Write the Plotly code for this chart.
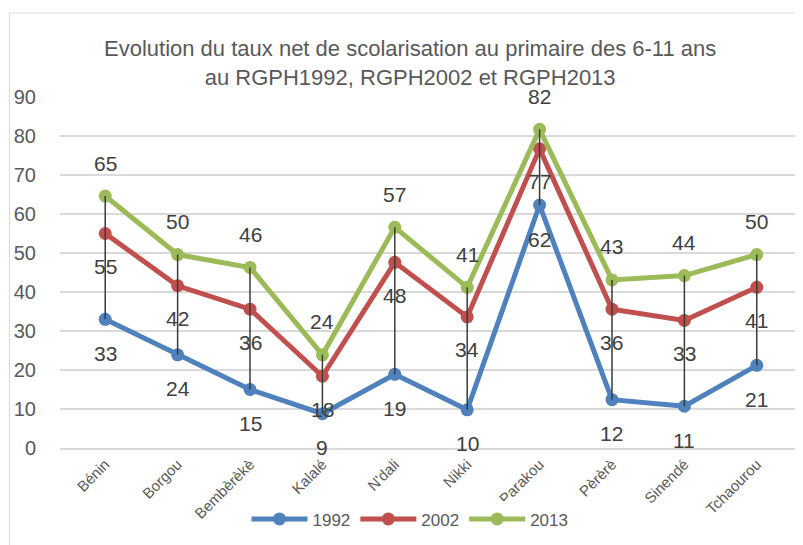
import plotly.graph_objects as go

categories = ["Bénin", "Borgou", "Bembèrèkè", "Kalalé", "N'dali", "Nikki",
              "Parakou", "Pèrèrè", "Sinendé", "Tchaourou"]
v1992 = [33.0, 23.9, 15.0, 8.8, 18.9, 9.8, 62.3, 12.4, 10.7, 21.2]
v2002 = [55.0, 41.6, 35.6, 18.4, 47.6, 33.6, 76.7, 35.6, 32.7, 41.2]
v2013 = [64.6, 49.6, 46.3, 23.9, 56.6, 41.2, 81.7, 43.1, 44.2, 49.6]
series_names = ["1992", "2002", "2013"]
colors = ["#4F81BD", "#C0504D", "#9BBB59"]
yticks = [0, 10, 20, 30, 40, 50, 60, 70, 80, 90]

font_fam = "Liberation Sans, Arial, sans-serif"
# the page body has an 8px margin; size the figure so that it fits the window
OFF = 8
W, H = 803 - OFF, 545 - OFF
# target page coordinates of the plot area
PX0, PX1, PY0, PY1 = 60, 802, 97, 447.7
ml = PX0 - OFF
mr = W - (PX1 - OFF)
mt = PY0 - OFF
mb = H - (PY1 - OFF)
pw = W - ml - mr
ph = H - mt - mb


def px_x(x):
    return (x - PX0) / pw


def px_y(y):
    return (PY1 - y) / ph


fig = go.Figure()
for name, vals, c in zip(series_names, [v1992, v2002, v2013], colors):
    fig.add_trace(go.Scatter(
        x=categories, y=vals, name=name, mode="lines+markers",
        line=dict(color=c, width=5), marker=dict(color=c, size=13),
    ))

# high-low lines
hx, hy = [], []
for i, cat in enumerate(categories):
    vals = [v1992[i], v2002[i], v2013[i]]
    hx += [cat, cat, None]
    hy += [min(vals), max(vals), None]
fig.add_trace(go.Scatter(x=hx, y=hy, mode="lines", line=dict(color="#3A3A3A", width=1.5),
                         showlegend=False, hoverinfo="skip"))

annotations = []
for vals, shift in [(v1992, -34), (v2002, -33), (v2013, 33)]:
    for cat, v in zip(categories, vals):
        annotations.append(dict(x=cat, y=v, text=str(int(v + 0.5)), showarrow=False,
                                yshift=shift, yanchor="middle",
                                font=dict(size=21, color="#404040", family=font_fam)))

annotations.append(dict(
    xref="paper", yref="paper", x=px_x(410), y=px_y(63.5),
    text="Evolution du taux net de scolarisation au primaire des 6-11 ans<br>au RGPH1992, RGPH2002 et RGPH2013",
    showarrow=False, yanchor="middle", xanchor="center",
    font=dict(size=22, color="#595959", family=font_fam)))

fig.add_shape(type="rect", xref="paper", yref="paper",
              x0=px_x(9.5), x1=px_x(820),
              y0=px_y(560), y1=px_y(13),
              line=dict(color="#D9D9D9", width=1), layer="below")

fig.update_layout(
    width=W, height=H,
    margin=dict(l=ml, r=mr, t=mt, b=mb, autoexpand=False),
    paper_bgcolor="white", plot_bgcolor="white",
    annotations=annotations,
    showlegend=True,
    legend=dict(orientation="h", x=px_x(410), xanchor="center",
                y=px_y(519), yanchor="middle",
                font=dict(size=17, color="#595959", family=font_fam), itemwidth=56),
    xaxis=dict(showgrid=False, tickangle=-45, ticks="", automargin=False,
               tickfont=dict(size=15, color="#595959", family=font_fam),
               showline=True, linecolor="#D9D9D9", linewidth=1.5),
    yaxis=dict(range=[0, 90], tickvals=yticks, showgrid=True, gridcolor="#D9D9D9",
               gridwidth=1.5, zeroline=False, ticks="", automargin=False,
               ticklabelstandoff=23,
               tickfont=dict(size=20, color="#595959", family=font_fam)),
)
fig.write_html("out.html")
